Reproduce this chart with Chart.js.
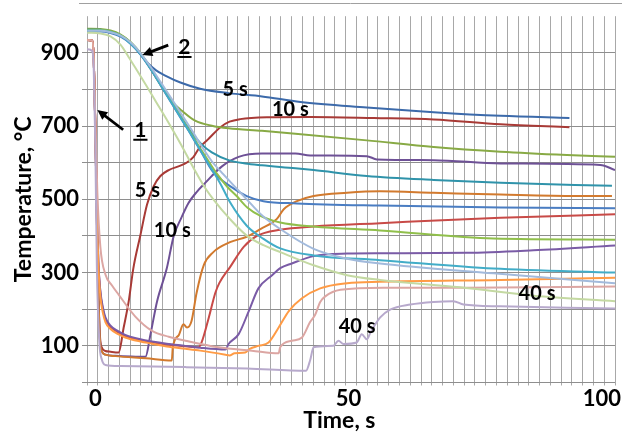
<!DOCTYPE html>
<html>
<head>
<meta charset="utf-8">
<script src="https://cdn.jsdelivr.net/npm/chart.js@4.4.0/dist/chart.umd.min.js"></script>
<style>
    html, body { margin: 0; padding: 0; background: #ffffff; }
</style>
</head>
<body>
<canvas id="QuenchChart" width="622" height="433"></canvas>
<script>
// surface thermocouple (curves "1"), [time s, temperature C]
const surfRed5 = [[-1.6,935],[-0.6,933],[-0.3,880],[0,700],[0.3,450],[0.6,250],[0.9,130],[1.3,95],[2,86],[3,84],[4.6,82],[5.6,150],[6.6,222],[7.5,311],[8.9,402],[10.2,485],[11.5,535],[12.8,563],[14.5,580],[16.8,592],[18,600],[19.4,616],[20.5,640],[22.2,663],[24.7,697],[26.5,712],[28.6,719],[33.9,724],[42.5,725],[55,722],[66.8,718],[80,705],[93.6,697]];
const surfPurple10 = [[-1.6,935],[-0.6,933],[-0.3,880],[0,700],[0.3,450],[0.6,250],[0.9,120],[1.3,85],[2,76],[4,73],[7,71],[9.9,70],[10.9,132],[12.2,222],[14.1,311],[15.5,401],[17,450],[18.4,490],[20,520],[21.7,545],[25,590],[28.3,616],[32.9,625],[39.5,625],[42.4,620],[53.6,618],[55.6,609],[66.8,607],[80,598],[99.7,594],[102.6,580]];
const surfOrangeDark = [[-1.6,935],[-0.6,933],[-0.3,880],[0,700],[0.3,450],[0.6,250],[0.9,120],[1.3,85],[2,76],[4,72],[10,66],[15.1,60],[15.3,96],[16.5,130],[17.4,159],[18.1,150],[19,168],[20,245],[21.4,320],[23.3,356],[26.6,383],[29.9,398],[32.6,419],[35.8,446],[37.2,473],[39.8,495],[43.1,509],[49.7,518],[56.2,522],[66.8,518],[80,513],[95,509],[102,509]];
const surfRed2 = [[-1.6,935],[-0.6,933],[-0.3,880],[0,700],[0.3,480],[0.6,330],[1,245],[1.5,198],[2,172],[3,152],[4.5,137],[5.9,127],[8.9,116],[11.2,110],[14.1,104],[17.8,99],[20.4,96],[21,110],[22.4,177],[23.7,245],[24.5,272],[26.6,315],[29.3,370],[31.9,400],[36.5,417],[43.1,426],[56.2,435],[80,450],[102.6,459]];
const surfPurple2 = [[-1.6,935],[-0.6,933],[-0.3,880],[0,700],[0.3,480],[0.6,330],[1,250],[1.5,205],[2,178],[3,155],[4.5,140],[5.9,130],[8.9,118],[11.2,112],[14.1,106],[17.8,100],[20.7,95],[25.7,90],[26.3,105],[28.3,132],[30.3,195],[32.2,257],[34.9,293],[36.5,312],[38.8,325],[43.1,345],[49.7,352],[56.2,353],[73.3,354],[86.5,361],[102.6,374]];
const surfOrange = [[-1.6,935],[-0.6,933],[-0.3,880],[0,700],[0.3,470],[0.6,320],[1,235],[1.5,190],[2,165],[3,146],[4.5,132],[5.9,123],[8.9,112],[11.2,106],[14.1,98],[17.8,92],[20.7,87],[25.7,76],[26.5,74],[27.5,80],[29.6,82],[30.5,92],[32.2,100],[34.2,109],[36.2,150],[38.2,195],[40.8,230],[44.4,257],[49.7,271],[56.2,275],[80,280],[102.6,286]];
const surfPink = [[-1.6,935],[-0.6,933],[-0.3,880],[0,720],[0.4,520],[1,370],[2,295],[3.3,265],[4.6,240],[7.9,180],[11.2,141],[14.5,125],[17.8,114],[24.3,96],[30.9,87],[36.2,80],[36.5,96],[38.8,114],[40.8,123],[42.4,165],[43.4,185],[44.4,220],[45.4,235],[48.4,253],[56.9,259],[73.3,259],[102.6,262]];
const surfLightPurple = [[-1.6,910],[-0.6,905],[-0.3,850],[0,650],[0.3,320],[0.8,110],[1.3,62],[2,48],[5,45],[17.8,42],[30,38],[41.6,32],[42.4,60],[43.1,96],[47,100],[48,114],[49,105],[51.6,109],[52.6,132],[53.6,118],[54.3,136],[56.2,177],[58.2,199],[62.2,213],[66.8,220],[70.7,222],[72.7,213],[80,208],[93.1,204],[102.6,202]];

// core thermocouple (curves "2")
const coreBlue5 = [[-1.6,960],[1,960],[3,956],[5,946],[7,926],[9,895],[10.5,870],[12,852],[13.8,838],[16.8,819],[20.7,802],[26.3,790],[32.9,781],[40.5,766],[53.6,751],[66.8,738],[80,728],[93.6,722]];
const coreGreen10 = [[-1.6,966],[1,965],[3,961],[5,950],[7,929],[9,897],[11,855],[13,810],[15,769],[17.1,742],[19.7,715],[23,701],[26.3,694],[32.9,687],[39.5,679],[53.6,661],[66.8,643],[80,630],[93.1,621],[102.6,616]];
const coreTealDark = [[-1.6,963],[1,963],[3,958],[5,948],[7,927],[9,896],[11,856],[13,812],[15,768],[17,724],[19,682],[21,650],[23,628],[26.3,607],[29.6,598],[32.9,593],[39.5,585],[43.1,580],[53.6,564],[66.8,553],[80,545],[102,537]];
const coreBlueMid = [[-1.6,958],[1,958],[3,954],[5,944],[7,924],[9,894],[11,854],[13,809],[15,764],[17,719],[19,674],[21,627],[23.3,574],[26.6,536],[29.9,509],[33.2,495],[39.8,489],[56.2,483],[80,478],[102.6,476]];
const coreGreen2 = [[-1.6,962],[1,962],[3,958],[5,948],[7,928],[9,897],[11,857],[13,812],[15,768],[17,723],[19,678],[21,633],[22.5,601],[24,570],[26,535],[27.9,509],[30,478],[32.6,455],[36.5,437],[43.1,426],[56.2,415],[78.6,393],[102.6,390]];
const coreLightBlue = [[-1.6,960],[1,960],[3,956],[5,947],[7,928],[9,898],[11,860],[13,818],[15,776],[17,733],[19,690],[21,645],[23,604],[25.3,568],[29.9,500],[33,455],[36.5,419],[43.1,365],[49.7,338],[56.2,325],[78.6,298],[102.6,271]];
const coreTealLight = [[-1.6,961],[1,961],[3,957],[5,946],[7,925],[9,895],[11,855],[13,810],[15,765],[17,720],[19,675],[21,628],[23,582],[24.8,540],[26.6,492],[29.9,428],[33.2,392],[36.5,366],[43.1,347],[56.2,334],[78.6,311],[102.6,300]];
const coreLightGreen = [[-1.6,955],[1,953],[3,945],[5,922],[6.6,888],[8,857],[10,812],[12,766],[14,720],[16,672],[18,622],[19.7,578],[21.5,535],[23.3,500],[26.6,446],[29.9,401],[33.2,375],[36.5,356],[43.1,320],[49.7,293],[56.2,280],[72,260],[86.5,237],[102.6,222]];

const xTickValues = [0, 50, 100];
const yTickValues = [100, 300, 500, 700, 900];

const QuenchChartId = 'QuenchChart';
const FontName = 'Lato';

const SeriesList = [
    { data: coreLightGreen, color: '#c4d9a2' },
    { data: coreLightBlue, color: '#a2badc' },
    { data: coreTealLight, color: '#42adc8' },
    { data: coreGreen2, color: '#90bf4b' },
    { data: coreBlueMid, color: '#4a7dc2' },
    { data: coreTealDark, color: '#2f93aa' },
    { data: coreGreen10, color: '#88aa45' },
    { data: coreBlue5, color: '#3c6aaa' },
    { data: surfLightPurple, color: '#b7a9cc' },
    { data: surfPink, color: '#dca6a3' },
    { data: surfOrange, color: '#ff9b45' },
    { data: surfPurple2, color: '#7a5ba6' },
    { data: surfRed2, color: '#c84a47' },
    { data: surfOrangeDark, color: '#d27a2e' },
    { data: surfPurple10, color: '#6e5196' },
    { data: surfRed5, color: '#a83a36' }
];

// text notes placed in data coordinates
const NoteLabels = [
    { text: '5 s', t: 27.6, T: 800 },
    { text: '10 s', t: 38.5, T: 744 },
    { text: '5 s', t: 10.3, T: 524 },
    { text: '10 s', t: 15.2, T: 415 },
    { text: '40 s', t: 51.7, T: 154 },
    { text: '40 s', t: 87.2, T: 243 }
];
const NoteNumbers = [
    { text: '1', t: 8.9, T: 690 },
    { text: '2', t: 17.6, T: 916 }
];
const NoteArrows = [
    { t0: 5.5, T0: 690, t1: 0.4, T1: 744 },
    { t0: 14.4, T0: 921, t1: 9.3, T1: 894 }
];

function ToPoints(list)
{
    return list.map(function (p) { return { x: p[0], y: p[1] }; });
}

const notesPlugin = {
    id: 'quenchNotes',
    afterDatasetsDraw(chart) {
        const ctx = chart.ctx;
        const xs = chart.scales.x;
        const ys = chart.scales.y;
        const area = chart.chartArea;
        ctx.save();
        ctx.fillStyle = '#000000';
        ctx.strokeStyle = '#000000';
        ctx.textAlign = 'center';
        ctx.textBaseline = 'middle';
        ctx.font = 'bold 20px ' + FontName;
        for (let n of NoteLabels) {
            ctx.fillText(n.text, xs.getPixelForValue(n.t), ys.getPixelForValue(n.T));
        }
        ctx.font = 'bold 21px ' + FontName;
        ctx.lineWidth = 2;
        for (let n of NoteNumbers) {
            const px = xs.getPixelForValue(n.t);
            const py = ys.getPixelForValue(n.T);
            ctx.fillText(n.text, px, py);
            const w = ctx.measureText(n.text).width;
            ctx.beginPath();
            ctx.moveTo(px - w / 2 - 1, py + 10);
            ctx.lineTo(px + w / 2 + 1, py + 10);
            ctx.stroke();
        }
        ctx.lineWidth = 2.8;
        for (let a of NoteArrows) {
            const x0 = xs.getPixelForValue(a.t0), y0 = ys.getPixelForValue(a.T0);
            const x1 = xs.getPixelForValue(a.t1), y1 = ys.getPixelForValue(a.T1);
            const ang = Math.atan2(y1 - y0, x1 - x0);
            const head = 11;
            ctx.beginPath();
            ctx.moveTo(x0, y0);
            ctx.lineTo(x1 - Math.cos(ang) * 6, y1 - Math.sin(ang) * 6);
            ctx.stroke();
            ctx.beginPath();
            ctx.moveTo(x1, y1);
            ctx.lineTo(x1 - head * Math.cos(ang - 0.45), y1 - head * Math.sin(ang - 0.45));
            ctx.lineTo(x1 - head * Math.cos(ang + 0.45), y1 - head * Math.sin(ang + 0.45));
            ctx.closePath();
            ctx.fill();
        }
        // axis titles
        ctx.font = 'bold 23px ' + FontName;
        ctx.textBaseline = 'alphabetic';
        ctx.fillText('Time, s', area.left + (area.right - area.left) * 0.478, 428);
        ctx.translate(31, (area.top + area.bottom) / 2);
        ctx.rotate(-Math.PI / 2);
        ctx.fillText('Temperature, \u00B0C', 0, 0);
        ctx.restore();
    },
    afterDraw(chart) {
        const ctx = chart.ctx;
        ctx.save();
        ctx.strokeStyle = '#a0a0a0';
        ctx.lineWidth = 1;
        ctx.beginPath();
        ctx.moveTo(79, 3.5);
        ctx.lineTo(622, 3.5);
        ctx.stroke();
        ctx.restore();
    }
};

new Chart(document.getElementById(QuenchChartId),
{
    type: 'line',
    data:
    {
        datasets: SeriesList.map(function (s) {
            return {
                data: ToPoints(s.data),
                borderColor: s.color,
                backgroundColor: s.color,
                borderWidth: 2,
                pointRadius: 0,
                fill: false,
                cubicInterpolationMode: 'monotone',
                xAxisID: 'x',
                yAxisID: 'y'
            };
        })
    },
    options:
    {
        responsive: false,
        animation: false,
        events: [],
        layout: { padding: { left: 0, right: 7, top: 12, bottom: 0 } },
        plugins: { legend: { display: false }, tooltip: { enabled: false } },
        scales:
        {
            x:
            {
                type: 'linear',
                position: 'bottom',
                weight: 1,
                min: -1.64,
                max: 102.6,
                afterBuildTicks: function (scale) {
                    scale.ticks = xTickValues.map(function (v) { return { value: v }; });
                },
                afterFit: function (scale) { scale.height = 47.5; },
                grid: { display: false, drawTicks: false },
                border: { display: false },
                ticks: {
                    padding: 0,
                    maxRotation: 0,
                    color: '#000000',
                    font: { family: FontName, size: 22, weight: 'bold' },
                    callback: function (v) { return v; }
                }
            },
            xg:
            {
                type: 'linear',
                position: 'bottom',
                weight: 0,
                min: 0,
                max: 49,
                afterFit: function (scale) { scale.height = 3; },
                grid: { color: '#a8a8a8', lineWidth: 1, tickLength: 3 },
                border: { display: false },
                ticks: { display: false, stepSize: 1, autoSkip: false }
            },
            y:
            {
                type: 'linear',
                min: 0,
                max: 1000,
                afterFit: function (scale) { scale.width = 87; },
                grid: {
                    tickLength: 5,
                    color: function (c) { return c.tick && c.tick.value === 1000 ? 'rgba(0,0,0,0)' : '#8e8e8e'; }
                },
                border: { display: false },
                ticks: {
                    stepSize: 100,
                    padding: 3,
                    color: '#000000',
                    font: { family: FontName, size: 22, weight: 'bold' },
                    callback: function (v) { return yTickValues.indexOf(v) >= 0 ? v : ''; }
                }
            }
        }
    },
    plugins: [notesPlugin]
});
</script>
</body>
</html>
